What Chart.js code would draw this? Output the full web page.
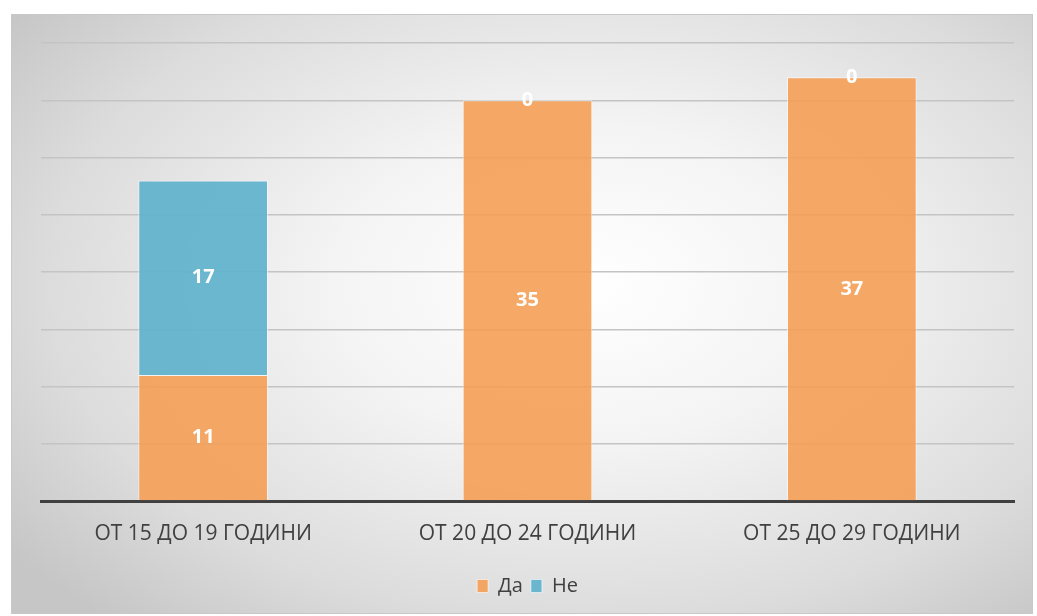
<!DOCTYPE html>
<html>
    <head>
        <meta charset="UTF-8"/>
        <script src="https://cdn.jsdelivr.net/npm/chart.js@4.4.0/dist/chart.umd.min.js"></script>
        <style>
            body { margin: 0; background: #fff; }
            #frame {
                position: absolute; left: 11px; top: 14px; width: 1020px; height: 598px;
                border: 1px solid #c8c8c8;
                background: radial-gradient(ellipse 70% 75% at 56% 45%, #ffffff 0%, #f4f4f4 35%, #dcdcdc 75%, #c6c6c6 100%);
            }
            #chart { position: absolute; left: 0; top: 0; }
        </style>
    </head>
    <body>
        <div id="frame"></div>
        <canvas id="chart" width="1037" height="616"></canvas>

        <script>
        const xlabels = ['ОТ 15 ДО 19 ГОДИНИ', 'ОТ 20 ДО 24 ГОДИНИ', 'ОТ 25 ДО 29 ГОДИНИ'];
        const yes = [11, 35, 37];
        const no = [17, 0, 0];

        // white value labels centred on each stacked segment
        const barValues = {
            id: 'barValues',
            afterDatasetsDraw(chart) {
                const ctx = chart.ctx;
                ctx.save();
                ctx.font = 'bold 20px "Open Sans"';
                ctx.fillStyle = '#ffffff';
                ctx.textAlign = 'center';
                ctx.textBaseline = 'middle';
                chart.data.datasets.forEach((ds, i) => {
                    chart.getDatasetMeta(i).data.forEach((bar, j) => {
                        const mid = (bar.y + bar.base) / 2;
                        ctx.fillText(ds.data[j], bar.x, mid);
                    });
                });
                ctx.restore();
            }
        };

        const ctx = document.getElementById('chart').getContext('2d');
        const myChart = new Chart(ctx, {
            type: 'bar',
            data: {
                labels: xlabels,
                datasets: [{
                    label: 'Да',
                    data: yes,
                    backgroundColor: 'rgba(245,160,85,0.9)',
                    borderColor: 'rgba(255,255,255,0.6)',
                    borderWidth: 1,
                    categoryPercentage: 1,
                    barPercentage: 0.4
                }, {
                    label: 'Не',
                    data: no,
                    backgroundColor: 'rgba(94,178,204,0.92)',
                    borderColor: 'rgba(255,255,255,0.6)',
                    borderWidth: 1,
                    categoryPercentage: 1,
                    barPercentage: 0.4
                }]
            },
            options: {
                responsive: false,
                animation: false,
                layout: { padding: { left: 41, right: 23, top: 43, bottom: 10 } },
                plugins: {
                    tooltip: { enabled: false },
                    legend: {
                        position: 'bottom',
                        labels: {
                            boxWidth: 11,
                            boxHeight: 13,
                            color: '#404040',
                            font: { family: 'Open Sans', size: 20 },
                            padding: 8
                        }
                    }
                },
                scales: {
                    x: {
                        stacked: true,
                        grid: { display: false },
                        border: { color: '#404040', width: 3 },
                        ticks: { color: '#404040', font: { family: 'Open Sans', size: 21 }, padding: 12 },
                        // leave room between the category labels and the legend
                        afterFit: function(scale) { scale.height = 67; }
                    },
                    y: {
                        stacked: true,
                        min: 0,
                        max: 40,
                        ticks: { display: false, stepSize: 5 },
                        border: { display: false },
                        grid: { color: '#c4c4c4', lineWidth: 1.5, drawTicks: false }
                    }
                }
            },
            plugins: [barValues]
        });
        </script>
    </body>
</html>
